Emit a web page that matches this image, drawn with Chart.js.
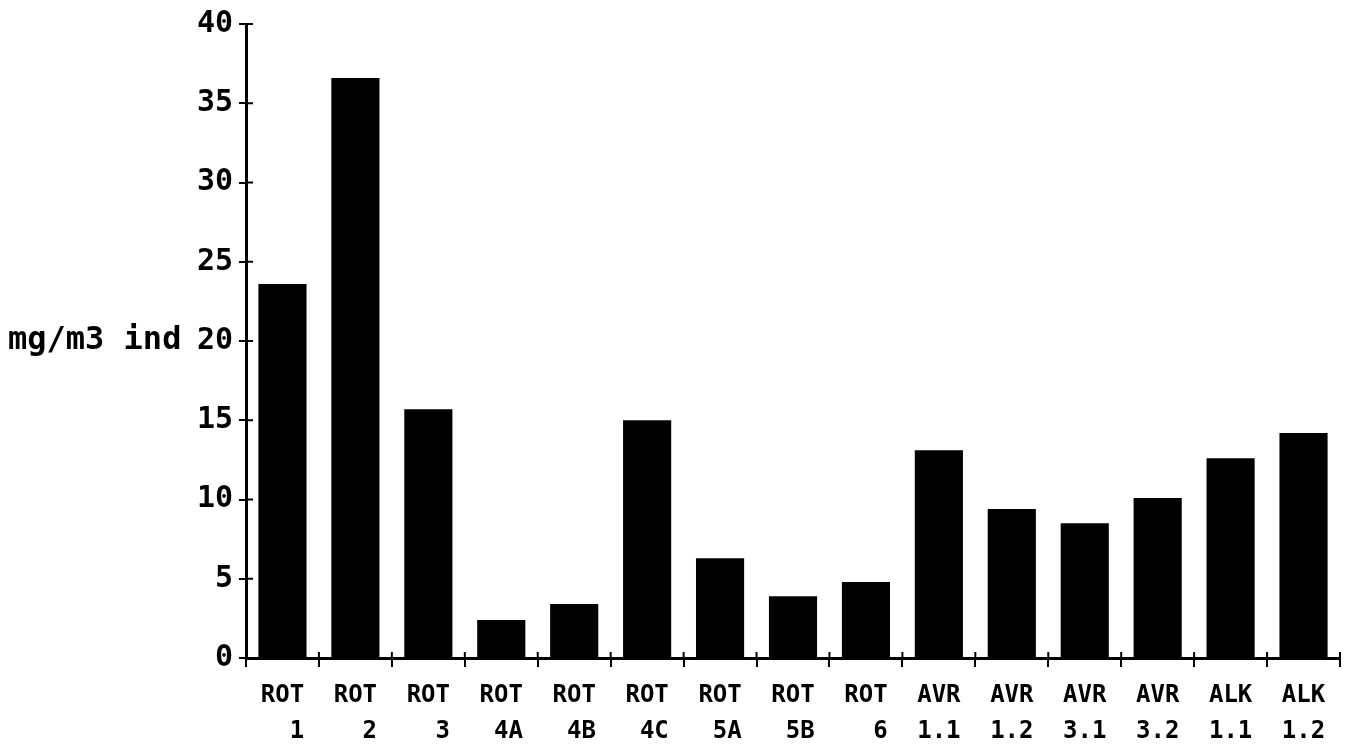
<!DOCTYPE html>
<html>
<head>
<meta charset="utf-8">
<script src="https://cdn.jsdelivr.net/npm/chart.js@4/dist/chart.umd.min.js"></script>
<style>
  html, body { margin: 0; padding: 0; background: #fff; }
</style>
</head>
<body>
<canvas id="chart" width="1351" height="748"></canvas>
<script>
// --- data ---
const groups = ["ROT", "ROT", "ROT", "ROT", "ROT", "ROT", "ROT", "ROT", "ROT",
                "AVR", "AVR", "AVR", "AVR", "ALK", "ALK"];
const codes = ["1", "2", "3", "4A", "4B", "4C", "5A", "5B", "6",
               "1.1", "1.2", "3.1", "3.2", "1.1", "1.2"];
const values = [23.6, 36.6, 15.7, 2.4, 3.4, 15.0, 6.3, 3.9, 4.8,
                13.1, 9.4, 8.5, 10.1, 12.6, 14.2];
const yMin = 0, yMax = 40, yStep = 5;
const yTitle = "mg/m3 ind";
const yTitleAt = 20;

const MONO = "'DejaVu Sans Mono', 'Liberation Mono', monospace";

// second line padded so it sits right-aligned under the group name
const labels = groups.map((g, i) => [g, codes[i].padStart(3, " ")]);

// draws the inner half of the cross ticks and the horizontal y title
const extras = {
    id: "extras",
    afterDraw(chart) {
        const ctx = chart.ctx;
        const x = chart.scales.x;
        const y = chart.scales.y;
        ctx.save();
        ctx.strokeStyle = "#000";
        ctx.lineWidth = 2;
        for (let v = yMin + yStep; v <= yMax; v += yStep) {
            const py = y.getPixelForValue(v);
            ctx.beginPath();
            ctx.moveTo(x.left, py);
            ctx.lineTo(x.left + 7, py);
            ctx.stroke();
        }
        for (let i = 1; i <= labels.length; i++) {
            const px = x.getPixelForValue(i - 0.5);
            ctx.beginPath();
            ctx.moveTo(px, y.bottom);
            ctx.lineTo(px, y.bottom - 6);
            ctx.stroke();
        }
        ctx.fillStyle = "#000";
        ctx.font = "bold 32px " + MONO;
        ctx.textAlign = "left";
        ctx.textBaseline = "middle";
        ctx.fillText(yTitle, 8, y.getPixelForValue(yTitleAt));
        ctx.restore();
    }
};

new Chart(document.getElementById("chart"), {
    type: "bar",
    data: {
        labels: labels,
        datasets: [{
            data: values,
            backgroundColor: "#000",
            borderWidth: 0,
            categoryPercentage: 1.0,
            barPercentage: 0.66
        }]
    },
    options: {
        responsive: false,
        animation: false,
        devicePixelRatio: 1,
        layout: { padding: { top: 22, right: 11, left: 0, bottom: 0 } },
        plugins: {
            legend: { display: false },
            tooltip: { enabled: false }
        },
        scales: {
            x: {
                afterFit: (s) => { s.height = 90; },
                border: { display: true, color: "#000", width: 3 },
                grid: {
                    offset: true,
                    drawOnChartArea: false,
                    drawTicks: true,
                    tickLength: 9,
                    color: "#000",
                    lineWidth: 2
                },
                ticks: {
                    autoSkip: false,
                    maxRotation: 0,
                    padding: 11,
                    color: "#000",
                    font: { family: MONO, size: 24, weight: "bold", lineHeight: 1.5 }
                }
            },
            y: {
                min: yMin,
                max: yMax,
                afterFit: (s) => { s.width = 246; },
                border: { display: true, color: "#000", width: 3 },
                grid: {
                    drawOnChartArea: false,
                    drawTicks: true,
                    tickLength: 7,
                    color: "#000",
                    lineWidth: 2
                },
                ticks: {
                    stepSize: yStep,
                    padding: 6,
                    color: "#000",
                    font: { family: MONO, size: 30, weight: "bold" }
                }
            }
        }
    },
    plugins: [extras]
});
</script>
</body>
</html>
